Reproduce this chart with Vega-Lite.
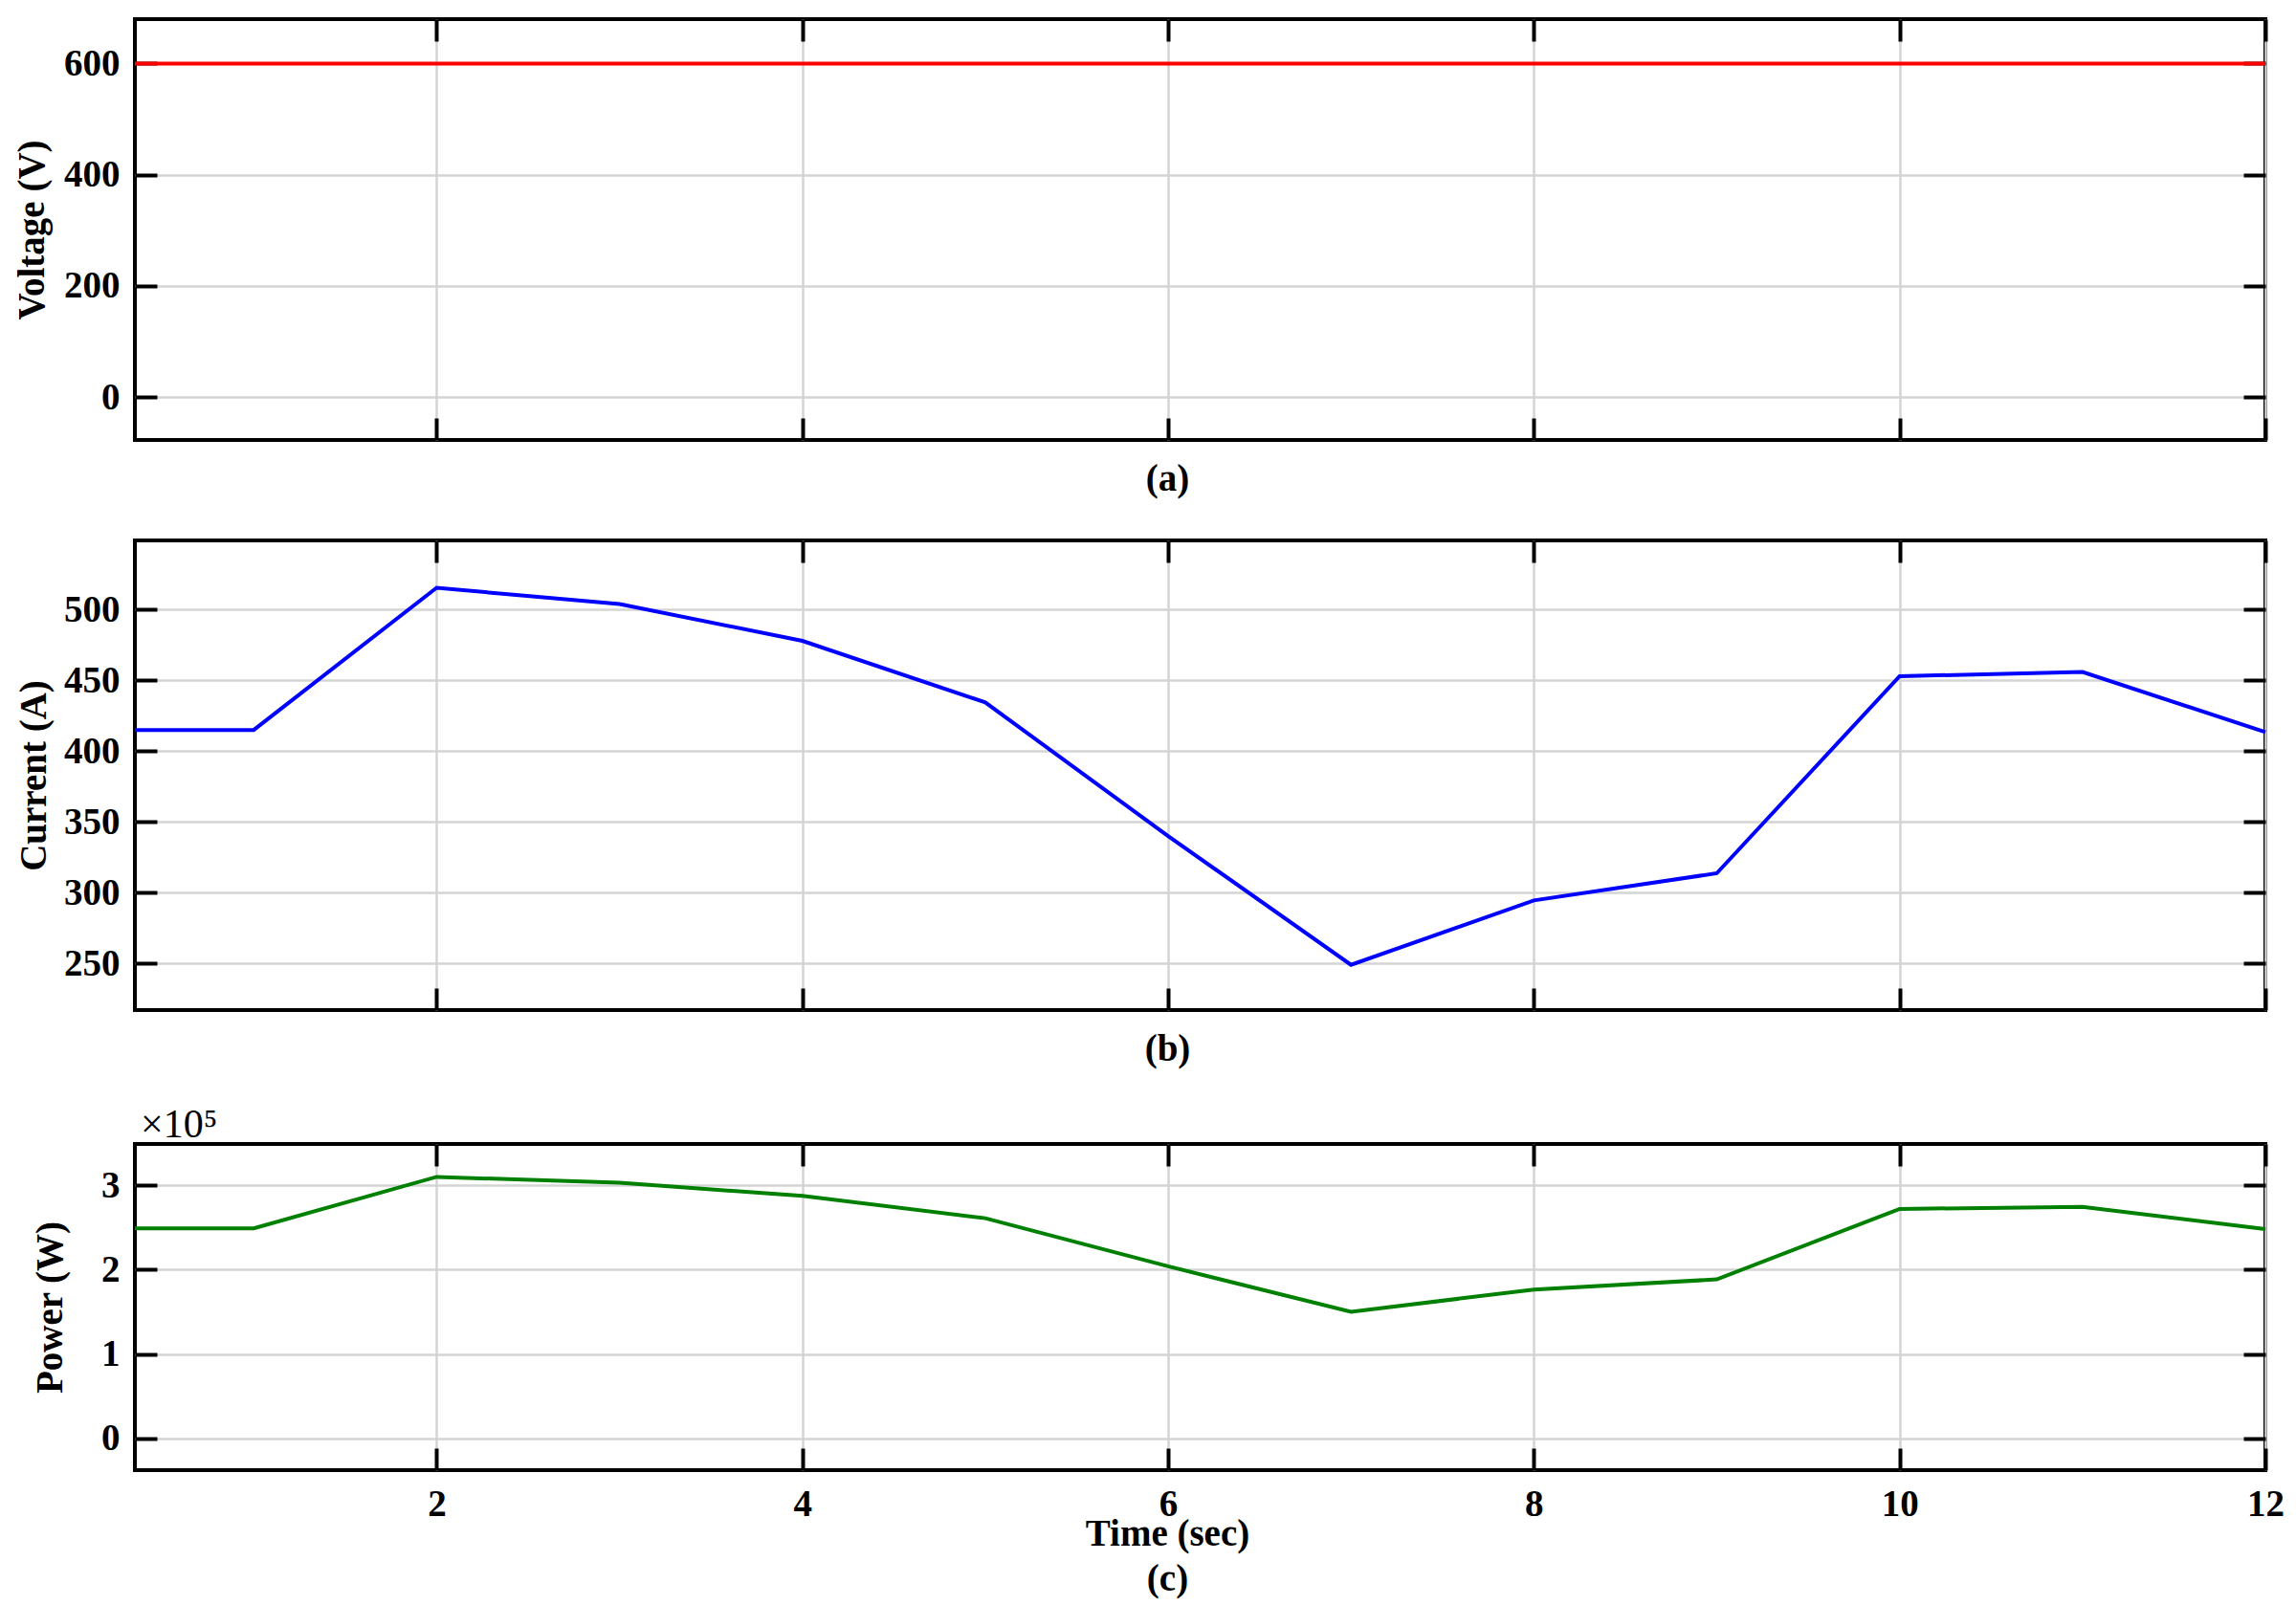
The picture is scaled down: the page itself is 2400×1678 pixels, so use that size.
{
  "$schema": "https://vega.github.io/schema/vega-lite/v6.json",
  "autosize": {"type": "none"},
  "padding": {"left": 141, "top": 20, "right": 2259, "bottom": 1658},
  "background": "white",
  "datasets": {
    "sim": [
      {"t": 0.35, "v": 600, "i": 415, "p": 249000},
      {"t": 1, "v": 600, "i": 415, "p": 249000},
      {"t": 2, "v": 600, "i": 515.5, "p": 310000},
      {"t": 3, "v": 600, "i": 504, "p": 303000},
      {"t": 4, "v": 600, "i": 478, "p": 287500},
      {"t": 5, "v": 600, "i": 434.5, "p": 261000},
      {"t": 6, "v": 600, "i": 340, "p": 204000},
      {"t": 7, "v": 600, "i": 249, "p": 150000},
      {"t": 8, "v": 600, "i": 294.5, "p": 176500},
      {"t": 9, "v": 600, "i": 313.7, "p": 188500},
      {"t": 10, "v": 600, "i": 453, "p": 272000},
      {"t": 11, "v": 600, "i": 456, "p": 274500},
      {"t": 12, "v": 600, "i": 413.5, "p": 248000}
    ]
  },
  "vconcat": [
    {
      "data": {"name": "sim"},
      "width": 2227,
      "height": 440,
      "layer": [
        {
          "mark": {"type": "line", "color": "#ff0000", "strokeWidth": 4},
          "encoding": {
            "x": {"field": "t", "type": "quantitative", "scale": {"domain": [0.35, 12], "nice": false, "zero": false},
                  "axis": {"values": [2, 4, 6, 8, 10, 12], "labels": false, "title": "(a)", "titleX": 1079, "titleY": 40, "titleBaseline": "middle", "grid": true}},
            "y": {"field": "v", "type": "quantitative", "scale": {"domain": [-77, 680], "nice": false, "zero": false},
                  "axis": {"values": [0, 200, 400, 600], "title": "Voltage (V)", "titleX": -108, "titleBaseline": "middle", "grid": true}}
          }
        },
        {
          "mark": {"type": "line", "opacity": 0},
          "encoding": {
            "x": {"field": "t", "type": "quantitative", "axis": {"orient": "top", "values": [2, 4, 6, 8, 10, 12], "labels": false, "title": null, "grid": false}},
            "y": {"field": "v", "type": "quantitative", "axis": {"orient": "right", "values": [0, 200, 400, 600], "labels": false, "title": null, "grid": false}}
          }
        }
      ],
      "resolve": {"axis": {"x": "independent", "y": "independent"}}
    },
    {
      "data": {"values": []},
      "width": 2227,
      "height": 105,
      "mark": {"type": "point", "opacity": 0},
      "view": {"stroke": null}
    },
    {
      "data": {"name": "sim"},
      "width": 2227,
      "height": 491,
      "layer": [
        {
          "mark": {"type": "line", "color": "#0000ff", "strokeWidth": 4},
          "encoding": {
            "x": {"field": "t", "type": "quantitative", "scale": {"domain": [0.35, 12], "nice": false, "zero": false},
                  "axis": {"values": [2, 4, 6, 8, 10, 12], "labels": false, "title": "(b)", "titleX": 1079, "titleY": 40, "titleBaseline": "middle", "grid": true}},
            "y": {"field": "i", "type": "quantitative", "scale": {"domain": [217, 549], "nice": false, "zero": false},
                  "axis": {"values": [250, 300, 350, 400, 450, 500], "title": "Current (A)", "titleX": -106, "titleBaseline": "middle", "grid": true}}
          }
        },
        {
          "mark": {"type": "line", "opacity": 0},
          "encoding": {
            "x": {"field": "t", "type": "quantitative", "axis": {"orient": "top", "values": [2, 4, 6, 8, 10, 12], "labels": false, "title": null, "grid": false}},
            "y": {"field": "i", "type": "quantitative", "axis": {"orient": "right", "values": [250, 300, 350, 400, 450, 500], "labels": false, "title": null, "grid": false}}
          }
        }
      ],
      "resolve": {"axis": {"x": "independent", "y": "independent"}}
    },
    {
      "data": {"values": []},
      "width": 2227,
      "height": 140,
      "mark": {"type": "point", "opacity": 0},
      "view": {"stroke": null}
    },
    {
      "data": {"name": "sim"},
      "width": 2227,
      "height": 341,
      "title": {"text": "×10⁵", "anchor": "start", "frame": "group", "font": "Liberation Serif", "fontSize": 42, "fontWeight": "normal", "color": "black", "offset": -37, "baseline": "alphabetic", "dx": 6},
      "layer": [
        {
          "mark": {"type": "line", "color": "#008000", "strokeWidth": 4},
          "encoding": {
            "x": {"field": "t", "type": "quantitative", "scale": {"domain": [0.35, 12], "nice": false, "zero": false},
                  "axis": {"values": [2, 4, 6, 8, 10, 12], "labelFlush": false, "title": ["Time (sec)", "(c)"], "titleX": 1079, "titleY": 66, "titleBaseline": "middle", "titleLineHeight": 47, "grid": true}},
            "y": {"field": "p", "type": "quantitative", "scale": {"domain": [-37600, 349000], "nice": false, "zero": false},
                  "axis": {"values": [0, 100000, 200000, 300000], "labelExpr": "datum.value / 100000", "title": "Power (W)", "titleX": -89, "titleBaseline": "middle", "grid": true}}
          }
        },
        {
          "mark": {"type": "line", "opacity": 0},
          "encoding": {
            "x": {"field": "t", "type": "quantitative", "axis": {"orient": "top", "values": [2, 4, 6, 8, 10, 12], "labels": false, "title": null, "grid": false}},
            "y": {"field": "p", "type": "quantitative", "axis": {"orient": "right", "values": [0, 100000, 200000, 300000], "labels": false, "title": null, "grid": false}}
          }
        }
      ],
      "resolve": {"axis": {"x": "independent", "y": "independent"}}
    }
  ],
  "spacing": 0,
  "bounds": "flush",
  "config": {
    "view": {"stroke": "black", "strokeWidth": 4},
    "axis": {
      "labelFont": "Liberation Serif", "labelFontWeight": "bold", "labelFontSize": 39, "labelColor": "black",
      "titleFont": "Liberation Serif", "titleFontWeight": "bold", "titleFontSize": 39, "titleColor": "black",
      "domain": false, "tickSize": -23, "tickWidth": 4, "tickColor": "black",
      "gridColor": "#d4d4d4", "gridWidth": 2.5, "labelPadding": 39
    }
  }
}
